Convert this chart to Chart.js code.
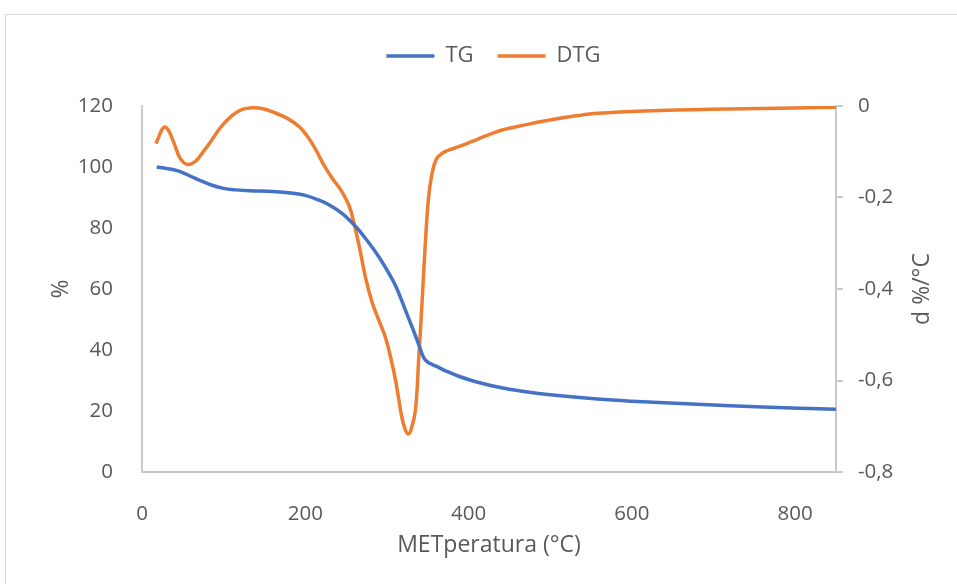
<!DOCTYPE html>
<html>
<head>
<meta charset="utf-8">
<script src="https://cdn.jsdelivr.net/npm/chart.js@4/dist/chart.umd.min.js"></script>
<style>
  html, body { margin: 0; padding: 0; background: #ffffff; }
  #wrap { width: 957px; height: 584px; position: relative; }
</style>
</head>
<body>
<div id="wrap"><canvas id="chart"></canvas></div>
<script>
// TG: residual mass (%) against temperature (°C)
const tgTemp = [18, 30, 43, 57, 71, 85, 100, 115, 132, 160, 185, 201, 216, 229, 245, 262, 276, 290, 301, 311, 323, 333, 340, 345, 350, 355, 360, 375, 388, 410, 440, 470, 500, 558, 600, 680, 760, 850];
const tgMass = [100, 99.5, 98.8, 97.3, 95.6, 94.1, 93, 92.5, 92.2, 92, 91.4, 90.6, 89.2, 87.6, 84.8, 80.4, 75.8, 70.6, 65.8, 60.8, 52.8, 46, 41, 37.5, 36, 35.3, 34.7, 32.8, 31.4, 29.5, 27.6, 26.3, 25.3, 23.9, 23.2, 22.2, 21.3, 20.6];

// DTG: rate of mass change (%/°C) against temperature (°C)
const dtgTemp = [17, 20, 24, 28, 33, 40, 47, 56, 66, 75, 83, 97, 111, 122, 135, 148, 160, 178, 193, 204, 213, 223, 233, 244, 254, 260, 267, 274, 282, 290, 298, 305, 311, 318, 322, 326, 330, 335, 339, 343, 347, 351, 355, 360, 367, 378, 388, 405, 420, 440, 457, 478, 498, 534, 559, 616, 697, 780, 850];
const dtgRate = [-0.082, -0.07, -0.053, -0.046, -0.055, -0.085, -0.115, -0.128, -0.12, -0.1, -0.081, -0.045, -0.02, -0.008, -0.004, -0.006, -0.013, -0.027, -0.046, -0.07, -0.096, -0.13, -0.158, -0.185, -0.22, -0.259, -0.315, -0.377, -0.43, -0.468, -0.505, -0.553, -0.604, -0.678, -0.705, -0.717, -0.705, -0.663, -0.55, -0.43, -0.3, -0.2, -0.15, -0.118, -0.104, -0.095, -0.089, -0.077, -0.066, -0.053, -0.046, -0.038, -0.031, -0.021, -0.016, -0.011, -0.007, -0.005, -0.003];

// Axis ranges, ticks and labels
const tempRange = [0, 850];
const tempTicks = [0, 200, 400, 600, 800];
const massRange = [0, 120];
const rateRange = [-0.8, 0];
const seriesNames = ['TG', 'DTG'];
const xTitle = 'METperatura (°C)';
const leftTitle = '%';
const rightTitle = 'd %/°C';

const TEXT = '#595959';
const AXIS = '#C9C9C9';
const FONT = '"Open Sans", "DejaVu Sans", sans-serif';

const pairs = (xs, ys) => xs.map((x, i) => ({ x: x, y: ys[i] }));
const commaDecimal = v => {
  const r = Math.round(v * 10) / 10;
  return r === 0 ? '0' : r.toFixed(1).replace('.', ',');
};

// light frame around the chart
const framePlugin = {
  id: 'frame',
  beforeDraw(chart) {
    const ctx = chart.ctx;
    ctx.save();
    ctx.strokeStyle = '#D9D9D9';
    ctx.lineWidth = 1;
    ctx.strokeRect(5.5, 14.5, 1200, 1200);
    ctx.restore();
  }
};

// legend placement: extra room below it and a small rightward offset
const legendPlacement = {
  id: 'legendPlacement',
  afterInit(chart) {
    const lg = chart.legend;
    if (!lg) return;
    const fit = lg.fit;
    lg.fit = function () {
      fit.call(this);
      this.height += 29;
    };
  },
  afterLayout(chart) {
    const lg = chart.legend;
    if (!lg) return;
    lg.left += 15;
    lg.right += 15;
  }
};

// secondary axis title, read bottom-to-top
const rightTitlePlugin = {
  id: 'rightAxisTitle',
  afterDraw(chart) {
    const s = chart.scales.y2;
    const ctx = chart.ctx;
    ctx.save();
    ctx.translate(922, (s.top + s.bottom) / 2);
    ctx.rotate(-Math.PI / 2);
    ctx.font = '23px ' + FONT;
    ctx.fillStyle = TEXT;
    ctx.textAlign = 'center';
    ctx.textBaseline = 'middle';
    ctx.fillText(rightTitle, 0, 0);
    ctx.restore();
  }
};

new Chart(document.getElementById('chart'), {
  type: 'line',
  data: {
    datasets: [
      {
        label: seriesNames[0],
        data: pairs(tgTemp, tgMass),
        yAxisID: 'y',
        borderColor: '#4472C4',
        backgroundColor: '#4472C4',
        borderWidth: 3.5,
        pointRadius: 0,
        tension: 0.4,
        fill: false
      },
      {
        label: seriesNames[1],
        data: pairs(dtgTemp, dtgRate),
        yAxisID: 'y2',
        borderColor: '#ED7D31',
        backgroundColor: '#ED7D31',
        borderWidth: 3.5,
        pointRadius: 0,
        tension: 0.4,
        fill: false
      }
    ]
  },
  options: {
    responsive: true,
    maintainAspectRatio: false,
    animation: false,
    devicePixelRatio: 1,
    layout: { padding: { top: 21, left: 0, right: 0, bottom: 0 } },
    plugins: {
      tooltip: { enabled: false },
      legend: {
        position: 'top',
        labels: {
          usePointStyle: true,
          pointStyle: 'line',
          pointStyleWidth: 48,
          boxHeight: 22,
          padding: 24,
          color: TEXT,
          font: { family: FONT, size: 22 }
        }
      }
    },
    scales: {
      x: {
        type: 'linear',
        min: tempRange[0],
        max: tempRange[1],
        afterBuildTicks(scale) { scale.ticks = tempTicks.map(v => ({ value: v })); },
        grid: { display: false },
        border: { display: true, color: AXIS, width: 2 },
        ticks: {
          padding: 22,
          color: TEXT,
          font: { family: FONT, size: 20.5 },
          maxRotation: 0
        },
        title: {
          display: true,
          text: xTitle,
          color: TEXT,
          font: { family: FONT, size: 23 },
          padding: { top: 0, bottom: 25 }
        },
        afterFit(scale) { scale.height = 112; }
      },
      y: {
        position: 'left',
        min: massRange[0],
        max: massRange[1],
        grid: { display: false },
        border: { display: true, color: AXIS, width: 2 },
        ticks: {
          stepSize: 20,
          padding: 21,
          color: TEXT,
          font: { family: FONT, size: 20.5 }
        },
        title: {
          display: true,
          text: leftTitle,
          color: TEXT,
          font: { family: FONT, size: 23 },
          padding: { top: 48, bottom: 0 }
        },
        afterFit(scale) { scale.width = 142; }
      },
      y2: {
        position: 'right',
        min: rateRange[0],
        max: rateRange[1],
        grid: {
          display: true,
          drawOnChartArea: false,
          drawTicks: true,
          tickLength: 7,
          color: AXIS,
          lineWidth: 2
        },
        border: { display: true, color: AXIS, width: 2 },
        ticks: {
          stepSize: 0.2,
          padding: 15,
          color: TEXT,
          font: { family: FONT, size: 20.5 },
          callback: v => commaDecimal(v)
        },
        afterFit(scale) { scale.width = 121; }
      }
    }
  },
  plugins: [framePlugin, legendPlacement, rightTitlePlugin]
});
</script>
</body>
</html>
